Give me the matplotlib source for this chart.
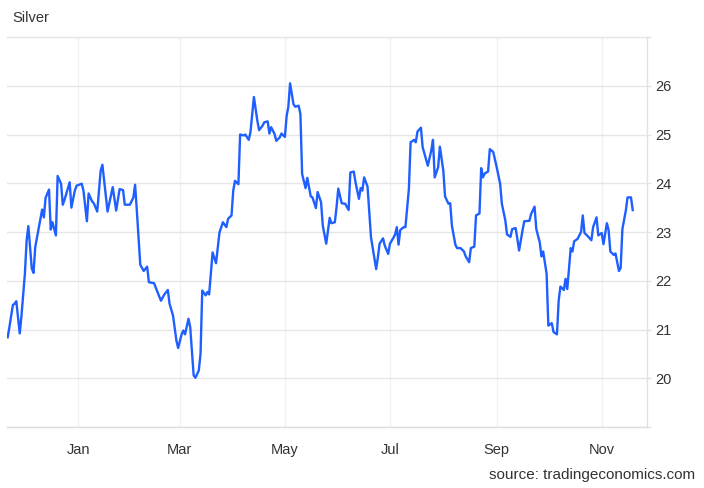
import matplotlib
matplotlib.use("Agg")
import matplotlib.pyplot as plt
import pandas as pd

# Days relative to 2023-01-01 and silver price (USD/oz)
day_offsets = [
    -41, -40, -38, -37, -36, -34, -33, -31, -30, -29, -27, -26, -25, -23, -21, -20, -19, -17, -16, -15,
    -13, -12, -10, -9, -8, -5, -4, -2, -1, 2, 3, 5, 6, 8, 9, 11, 13, 14, 17, 20,
    22, 24, 26, 27, 30, 32, 33, 34, 36, 38, 40, 41, 44, 46, 48, 50, 52, 53, 55, 57,
    58, 60, 61, 62, 64, 65, 67, 68, 70, 71, 72, 74, 75, 76, 78, 80, 82, 84, 86, 87,
    89, 90, 91, 93, 94, 96, 97, 99, 100, 102, 104, 105, 107, 108, 110, 111, 112, 114, 115, 117,
    118, 120, 121, 122, 123, 125, 126, 128, 129, 130, 132, 133, 135, 136, 138, 139, 141, 142, 144, 146,
    147, 149, 150, 151, 153, 155, 157, 158, 160, 161, 163, 164, 165, 166, 168, 170, 173, 174, 175, 177,
    178, 180, 181, 183, 184, 185, 186, 187, 189, 190, 192, 193, 195, 196, 197, 199, 200, 203, 205, 206,
    207, 209, 210, 212, 213, 215, 216, 217, 219, 220, 222, 224, 225, 227, 228, 230, 231, 233, 234, 235,
    236, 238, 239, 241, 243, 245, 246, 248, 249, 251, 252, 254, 255, 256, 258, 259, 262, 263, 265, 266,
    268, 269, 270, 272, 273, 275, 276, 278, 279, 280, 282, 283, 284, 286, 287, 288, 290, 292, 293, 294,
    296, 298, 299, 301, 302, 304, 305, 307, 308, 309, 311, 312, 314, 315, 316, 318, 319, 321, 322,
]
prices = [
    20.84, 21.05, 21.50, 21.53, 21.58, 20.92, 21.28, 22.15, 22.83, 23.12, 22.25, 22.16, 22.69, 23.07, 23.46, 23.30, 23.70, 23.87, 23.05, 23.20,
    22.93, 24.15, 23.99, 23.56, 23.66, 24.02, 23.50, 23.85, 23.95, 23.99, 23.85, 23.22, 23.79, 23.63, 23.59, 23.42, 24.26, 24.38, 23.42, 23.92,
    23.44, 23.88, 23.86, 23.56, 23.56, 23.71, 23.97, 23.44, 22.33, 22.20, 22.29, 21.97, 21.95, 21.77, 21.59, 21.72, 21.81, 21.53, 21.29, 20.77,
    20.62, 20.90, 20.98, 20.90, 21.22, 21.05, 20.06, 20.01, 20.16, 20.50, 21.80, 21.70, 21.77, 21.72, 22.58, 22.36, 22.99, 23.20, 23.10, 23.27,
    23.34, 23.85, 24.05, 23.98, 25.00, 24.98, 25.00, 24.89, 25.05, 25.77, 25.28, 25.09, 25.18, 25.25, 25.27, 25.02, 25.15, 25.01, 24.87, 24.94,
    25.02, 24.95, 25.38, 25.57, 26.05, 25.62, 25.57, 25.59, 25.42, 24.19, 23.90, 24.11, 23.73, 23.71, 23.49, 23.82, 23.61, 23.13, 22.76, 23.29,
    23.18, 23.20, 23.51, 23.89, 23.59, 23.58, 23.45, 24.22, 24.24, 24.02, 23.68, 23.90, 23.85, 24.12, 23.93, 22.89, 22.24, 22.48, 22.76, 22.87,
    22.72, 22.55, 22.76, 22.88, 22.95, 23.10, 22.74, 23.04, 23.10, 23.10, 23.88, 24.84, 24.89, 24.84, 25.06, 25.14, 24.74, 24.36, 24.67, 24.89,
    24.12, 24.33, 24.75, 24.26, 23.73, 23.58, 23.59, 23.13, 22.74, 22.67, 22.67, 22.60, 22.50, 22.38, 22.67, 22.70, 23.34, 23.38, 24.31, 24.12,
    24.20, 24.24, 24.70, 24.64, 24.33, 23.99, 23.58, 23.24, 22.95, 22.90, 23.06, 23.08, 22.86, 22.62, 23.03, 23.22, 23.23, 23.37, 23.52, 23.06,
    22.79, 22.50, 22.60, 22.14, 21.08, 21.13, 20.95, 20.90, 21.59, 21.88, 21.81, 22.04, 21.83, 22.67, 22.60, 22.81, 22.86, 23.00, 23.34, 22.98,
    22.91, 22.83, 23.10, 23.30, 22.93, 22.98, 22.75, 23.18, 23.04, 22.60, 22.53, 22.56, 22.20, 22.26, 23.06, 23.44, 23.71, 23.71, 23.45,
]
month_ticks = ["2023-01-01", "2023-03-01", "2023-05-01", "2023-07-01", "2023-09-01", "2023-11-01"]
month_labels = ["Jan", "Mar", "May", "Jul", "Sep", "Nov"]
y_ticks = [20, 21, 22, 23, 24, 25, 26]
title = "Silver"
source = "source: tradingeconomics.com"

base = pd.Timestamp("2023-01-01")
dates = base + pd.to_timedelta(day_offsets, unit="D")

plt.rcParams["font.family"] = ["Liberation Sans", "DejaVu Sans"]

fig = plt.figure(figsize=(7.04, 4.88), dpi=100)
ax = fig.add_axes([7 / 704, (488 - 427) / 488, (647 - 7) / 704, (427 - 37) / 488])

ax.plot(dates, prices, color="#1f5fff", lw=1.7, solid_joinstyle="round", zorder=3)

ax.set_xlim(base - pd.Timedelta(days=41.4), base + pd.Timedelta(days=330.3))
ax.set_ylim(19, 27)

ax.set_xticks(pd.to_datetime(month_ticks))
ax.set_xticklabels(month_labels)
ax.yaxis.tick_right()
ax.set_yticks(y_ticks)
ax.set_yticklabels([str(v) for v in y_ticks])
ax.set_yticks([19, 27], minor=True)

ax.grid(axis="y", which="both", color="#e6e6e6", lw=1.0, zorder=0)
ax.grid(axis="x", color="#eef2f7", lw=1.0, zorder=0)

ax.tick_params(axis="x", length=0, pad=11.5, labelsize=10.5, colors="#333333")
ax.tick_params(axis="y", which="both", length=3, width=1.0, color="#e2e2e2", pad=3,
               labelsize=10.5, labelcolor="#333333", right=True, left=False)

ax.spines["left"].set_visible(False)
ax.spines["top"].set_color("#e6e6e6")
ax.spines["right"].set_color("#e2e2e2")
ax.spines["bottom"].set_color("#dcdcdc")
for s in ax.spines.values():
    s.set_linewidth(1.0)

fig.text(12 / 704, 1 - 18 / 488, title, fontsize=10.5, color="#333333", va="center", ha="left")
fig.text(695 / 704, 1 - 475 / 488, source, fontsize=11, color="#333333", va="center", ha="right")

fig.savefig("out.png", dpi=100, facecolor="white")
